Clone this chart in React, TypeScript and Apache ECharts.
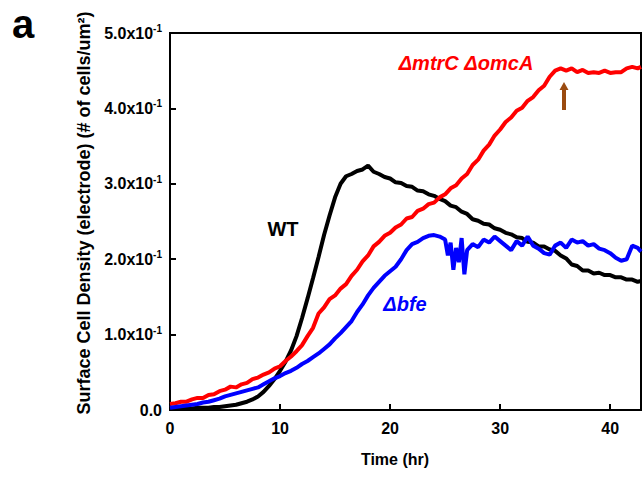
import React, { useEffect, useRef } from "react";
import * as echarts from "echarts";

// Time (hr), value (cells/um^2) pairs
const wtTimes = [0,0.5,1,1.5,2,2.5,3,3.5,4,4.5,5,5.5,6,6.5,7,7.5,8,8.5,9,9.5,10,10.5,11,11.5,12,12.5,13,13.5,14,14.5,15,15.5,16,16.5,17,17.5,18,18.5,19,19.5,20,20.5,21,21.5,22,22.5,23,23.5,24,24.5,25,25.5,26,26.5,27,27.5,28,28.5,29,29.5,30,30.5,31,31.5,32,32.5,33,33.5,34,34.5,35,35.5,36,36.5,37,37.5,38,38.5,39,39.5,40,40.5,41,41.5,42,42.5,42.8];
const wtValues = [0.002,0.002,0.002,0.002,0.002,0.003,0.003,0.003,0.004,0.004,0.005,0.006,0.007,0.009,0.011,0.014,0.018,0.024,0.032,0.041,0.052,0.064,0.079,0.098,0.122,0.148,0.175,0.203,0.232,0.258,0.282,0.300,0.310,0.313,0.317,0.319,0.324,0.316,0.313,0.309,0.307,0.302,0.301,0.297,0.296,0.291,0.290,0.286,0.284,0.280,0.277,0.271,0.269,0.263,0.260,0.253,0.251,0.247,0.246,0.241,0.239,0.235,0.233,0.229,0.228,0.223,0.222,0.217,0.217,0.213,0.211,0.205,0.201,0.193,0.191,0.185,0.185,0.181,0.182,0.179,0.179,0.176,0.176,0.173,0.173,0.170,0.171];

const mtrTimes = wtTimes;
const mtrValues = [0.008,0.009,0.011,0.011,0.014,0.016,0.016,0.020,0.021,0.025,0.027,0.031,0.030,0.034,0.036,0.041,0.043,0.047,0.050,0.055,0.058,0.065,0.071,0.078,0.086,0.098,0.109,0.128,0.136,0.147,0.152,0.161,0.167,0.178,0.186,0.197,0.205,0.217,0.223,0.231,0.235,0.242,0.246,0.254,0.256,0.264,0.267,0.273,0.275,0.282,0.286,0.294,0.298,0.307,0.313,0.325,0.332,0.344,0.352,0.364,0.372,0.382,0.388,0.397,0.401,0.410,0.415,0.424,0.430,0.442,0.450,0.453,0.450,0.453,0.448,0.451,0.447,0.448,0.447,0.450,0.447,0.448,0.448,0.453,0.455,0.453,0.455];

const bfeTimes = [0,0.5,1,1.5,2,2.5,3,3.5,4,4.5,5,5.5,6,6.5,7,7.5,8,8.5,9,9.5,10,10.5,11,11.5,12,12.5,13,13.5,14,14.5,15,15.5,16,16.5,17,17.5,18,18.5,19,19.5,20,20.5,21,21.5,22,22.5,23,23.5,24,24.5,25,25.25,25.5,25.75,26,26.25,26.5,26.75,27,27.5,28,28.5,29,29.5,30,30.5,31,31.5,32,32.5,33,33.5,34,34.5,35,35.5,36,36.5,37,37.5,38,38.5,39,39.5,40,40.5,41,41.5,42,42.5,42.8];
const bfeValues = [0.003,0.004,0.005,0.006,0.007,0.008,0.010,0.011,0.013,0.015,0.018,0.020,0.022,0.024,0.026,0.028,0.030,0.034,0.038,0.042,0.045,0.049,0.052,0.056,0.061,0.065,0.070,0.075,0.081,0.087,0.095,0.102,0.110,0.118,0.130,0.140,0.152,0.162,0.170,0.178,0.184,0.190,0.200,0.212,0.220,0.223,0.228,0.231,0.232,0.230,0.226,0.205,0.222,0.186,0.215,0.196,0.228,0.180,0.212,0.220,0.216,0.226,0.222,0.230,0.224,0.218,0.212,0.224,0.218,0.230,0.218,0.214,0.208,0.206,0.218,0.222,0.215,0.226,0.222,0.224,0.218,0.220,0.214,0.212,0.208,0.202,0.198,0.200,0.218,0.215,0.210];

const xTicks = [0, 10, 20, 30, 40];
const seriesNames = ["WT", "\u0394mtrC \u0394omcA", "\u0394bfe"];
const seriesColors = ["#000000", "#ff0000", "#0000ff"];

const FONT = "'Liberation Sans', Arial, sans-serif";

function pairs(t: number[], v: number[]) {
  return t.map((x, i) => [x, v[i]]);
}

export default function App() {
  const ref = useRef<HTMLDivElement>(null);
  useEffect(() => {
    if (!ref.current) return;
    const chart = echarts.init(ref.current, null, { renderer: "svg" });
    const data = [
      pairs(wtTimes, wtValues),
      pairs(mtrTimes, mtrValues),
      pairs(bfeTimes, bfeValues),
    ];
    chart.setOption({
      animation: false,
      backgroundColor: "#ffffff",
      grid: {
        left: 170,
        right: 3,
        top: 33,
        bottom: 68,
        show: true,
        borderColor: "#000",
        borderWidth: 2,
        backgroundColor: "transparent",
      },
      xAxis: {
        type: "value",
        min: 0,
        max: 42.8,
        interval: 10,
        splitLine: { show: false },
        axisLine: { lineStyle: { color: "#000", width: 2 } },
        axisTick: { inside: true, length: 6, lineStyle: { color: "#000", width: 2 } },
        axisLabel: {
          margin: 10,
          color: "#000",
          fontFamily: FONT,
          fontWeight: "bold",
          fontSize: 16,
          showMaxLabel: false,
          formatter: (v: number) => (xTicks.includes(Math.round(v)) ? String(Math.round(v)) : ""),
        },
      },
      yAxis: {
        type: "value",
        min: 0,
        max: 0.5,
        interval: 0.1,
        splitLine: { show: false },
        axisLine: { lineStyle: { color: "#000", width: 2 } },
        axisTick: { inside: true, length: 6, lineStyle: { color: "#000", width: 2 } },
        axisLabel: {
          margin: 8,
          color: "#000",
          fontFamily: FONT,
          fontWeight: "bold",
          fontSize: 16,
          formatter: (v: number) =>
            v < 1e-9 ? "{b|0.0}" : `{b|${(v * 10).toFixed(1)}x10}{s|-1}`,
          rich: {
            b: { fontFamily: FONT, fontWeight: "bold", fontSize: 16, color: "#000" },
            s: {
              fontFamily: FONT,
              fontWeight: "bold",
              fontSize: 10,
              color: "#000",
              padding: [0, 0, 9, 0],
            },
          },
        },
      },
      series: data.map((d, i) => ({
        name: seriesNames[i],
        type: "line",
        data: d,
        showSymbol: false,
        smooth: false,
        lineStyle: { color: seriesColors[i], width: 4 },
        itemStyle: { color: seriesColors[i] },
        z: 3 + i,
      })),
      graphic: [
        {
          type: "text",
          x: 12,
          y: 4,
          style: { text: "a", font: `bold 40px ${FONT}`, fill: "#000" },
        },
        {
          type: "text",
          x: 84,
          y: 213,
          rotation: Math.PI / 2,
          style: {
            text: "Surface Cell Density (electrode) (# of cells/um\u00B2)",
            font: `bold 18px ${FONT}`,
            fill: "#000",
            align: "center",
            verticalAlign: "middle",
          },
        },
        {
          type: "text",
          x: 395,
          y: 459,
          style: {
            text: "Time (hr)",
            font: `bold 16px ${FONT}`,
            fill: "#000",
            align: "center",
            verticalAlign: "middle",
          },
        },
        {
          type: "text",
          x: 466,
          y: 63,
          style: {
            text: seriesNames[1],
            font: `italic bold 20px ${FONT}`,
            fill: "#ff0000",
            align: "center",
            verticalAlign: "middle",
          },
        },
        {
          type: "text",
          x: 283,
          y: 229,
          style: {
            text: seriesNames[0],
            font: `bold 20px ${FONT}`,
            fill: "#000",
            align: "center",
            verticalAlign: "middle",
          },
        },
        {
          type: "text",
          x: 405,
          y: 304,
          style: {
            text: seriesNames[2],
            font: `italic bold 20px ${FONT}`,
            fill: "#0000ff",
            align: "center",
            verticalAlign: "middle",
          },
        },
        {
          type: "polygon",
          shape: {
            points: [
              [564, 82],
              [568.5, 90],
              [566, 90],
              [566, 110],
              [562, 110],
              [562, 90],
              [559.5, 90],
            ],
          },
          style: { fill: "#9a4b10" },
          z: 10,
        },
      ],
    });
    return () => chart.dispose();
  }, []);
  return (
    <div
      ref={ref}
      style={{ position: "fixed", left: 0, top: 0, width: 644, height: 478, background: "#fff" }}
    />
  );
}
